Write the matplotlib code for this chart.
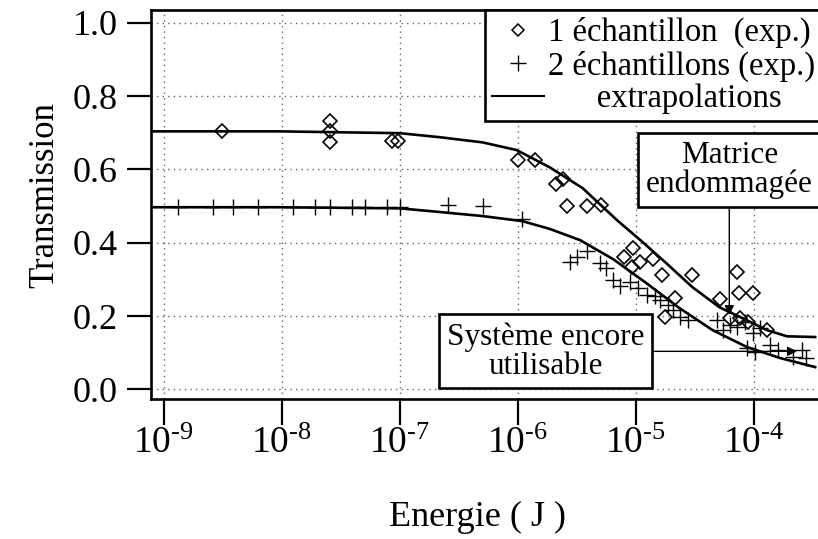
import numpy as np
import matplotlib
matplotlib.use("Agg")
import matplotlib.pyplot as plt
from matplotlib.lines import Line2D
from matplotlib.ticker import FixedLocator, FuncFormatter, NullLocator

plt.rcParams["font.family"] = ["Liberation Serif", "DejaVu Serif"]
plt.rcParams["mathtext.fontset"] = "custom"
plt.rcParams["mathtext.rm"] = "Liberation Serif"
plt.rcParams["mathtext.it"] = "Liberation Serif:italic"

# 1 echantillon (diamonds)
e1_x = [3.1e-9, 2.56e-8, 2.56e-8, 2.56e-8, 8.6e-8, 9.7e-8,
        1.0e-6, 1.4e-6, 2.11e-6, 2.42e-6, 2.61e-6, 3.85e-6, 5.07e-6,
        7.94e-6, 9.29e-6, 9.46e-6, 1.09e-5, 1.40e-5, 1.67e-5, 1.77e-5,
        2.15e-5, 2.99e-5, 5.16e-5, 6.28e-5, 7.19e-5, 7.48e-5, 7.64e-5,
        8.93e-5, 9.84e-5, 1.29e-4]
e1_y = [0.704, 0.732, 0.704, 0.674, 0.677, 0.677,
        0.625, 0.625, 0.560, 0.574, 0.500, 0.500, 0.503,
        0.361, 0.334, 0.385, 0.347, 0.355, 0.312, 0.197,
        0.249, 0.312, 0.246, 0.194, 0.320, 0.263, 0.194,
        0.184, 0.263, 0.162]

# 2 echantillons (crosses)
e2_x = [1.32e-9, 2.61e-9, 3.85e-9, 6.28e-9, 1.24e-8, 1.91e-8, 2.56e-8,
        3.94e-8, 5.07e-8, 7.80e-8, 1.0e-7, 2.56e-7, 5.07e-7, 1.09e-6,
        2.77e-6, 3.18e-6, 3.85e-6, 4.97e-6, 5.58e-6, 6.41e-6, 7.35e-6,
        8.93e-6, 1.04e-5, 1.24e-5, 1.46e-5, 1.60e-5, 1.87e-5, 2.07e-5,
        2.37e-5, 2.77e-5, 4.88e-5, 5.48e-5, 6.28e-5, 7.19e-5, 8.41e-5,
        9.84e-5, 1.13e-4, 8.75e-5, 1.02e-4, 1.37e-4, 1.60e-4, 2.15e-4,
        2.56e-4, 2.77e-4]
e2_y = [0.497, 0.497, 0.497, 0.497, 0.497, 0.497, 0.497,
        0.497, 0.497, 0.497, 0.497, 0.503, 0.500, 0.465,
        0.347, 0.361, 0.377, 0.344, 0.331, 0.298, 0.282,
        0.293, 0.276, 0.257, 0.254, 0.244, 0.230, 0.216,
        0.197, 0.189, 0.189, 0.162, 0.175, 0.170, 0.184,
        0.154, 0.167, 0.113, 0.102, 0.121, 0.107, 0.088,
        0.107, 0.085]

# extrapolations
c1_logx = [-9.11, -8.02, -7.00, -6.66, -6.30, -6.01, -5.73, -5.45, -5.16,
           -4.96, -4.74, -4.52, -4.29, -4.06, -3.89, -3.72, -3.48]
c1_y = [0.704, 0.704, 0.699, 0.688, 0.674, 0.653, 0.606, 0.549, 0.462,
        0.407, 0.344, 0.279, 0.224, 0.189, 0.162, 0.145, 0.143]
c2_logx = [-9.11, -8.02, -7.00, -6.66, -6.30, -5.96, -5.73, -5.47, -5.19,
           -4.91, -4.63, -4.35, -4.06, -3.78, -3.48]
c2_y = [0.497, 0.497, 0.494, 0.484, 0.473, 0.459, 0.438, 0.407, 0.355,
        0.290, 0.222, 0.162, 0.116, 0.086, 0.061]

xticks = [1e-9, 1e-8, 1e-7, 1e-6, 1e-5, 1e-4]
yticks = [0.0, 0.2, 0.4, 0.6, 0.8, 1.0]

fig = plt.figure(figsize=(8.18, 5.39), dpi=100)
ax = fig.add_axes([151 / 818, 140 / 539, 667 / 818, 389 / 539])

ax.plot(10 ** np.array(c1_logx), c1_y, color="black", lw=1.9, zorder=3)
ax.plot(10 ** np.array(c2_logx), c2_y, color="black", lw=1.9, zorder=3)
ax.plot(e1_x, e1_y, ls="none", marker="D", ms=7, mfc="none", mec="black",
        mew=1.2, zorder=4)
ax.plot(e2_x, e2_y, ls="none", marker="+", ms=12, mec="black", mew=1.0,
        zorder=4)

ax.set_xscale("log")
ax.set_xlim(10 ** -9.108, 10 ** -3.456)
ax.set_ylim(-0.026, 1.035)
ax.xaxis.set_major_locator(FixedLocator(xticks))
ax.xaxis.set_minor_locator(NullLocator())
ax.xaxis.set_major_formatter(FuncFormatter(
    lambda v, p: r"$\mathregular{10^{\text{%d}}}$" % round(np.log10(v))))
ax.set_yticks(yticks)
ax.set_yticklabels(["%.1f" % t for t in yticks])

ax.grid(True, ls=(0, (1, 3)), color="#666666", lw=1.0)
ax.tick_params(axis="y", direction="out", length=17, width=1.6,
               labelsize=26, pad=7)
ax.tick_params(axis="x", direction="out", length=19, width=1.6,
               labelsize=27, pad=1)
for s in ["left", "top", "bottom"]:
    ax.spines[s].set_linewidth(1.9)
ax.spines["right"].set_visible(False)

ax.set_ylabel("Transmission", fontsize=25)
ax.yaxis.set_label_coords(-0.135, 0.524)
ax.set_xlabel("Energie ( J )", fontsize=26)
ax.xaxis.set_label_coords(0.489, -0.262)

handles = [
    Line2D([], [], ls="none", marker="D", ms=6, mfc="none", mec="black", mew=1.1),
    Line2D([], [], ls="none", marker="+", ms=12, mec="black", mew=1.0),
    Line2D([], [], color="black", lw=1.5),
]
labels = ["1 échantillon  (exp.)", "2 échantillons (exp.)", "      extrapolations"]
leg = ax.legend(handles, labels, loc="upper left",
                bbox_to_anchor=(485 / 818, 1 - 10 / 539),
                bbox_transform=fig.transFigure, borderaxespad=0,
                fontsize=23.5, frameon=True, fancybox=False, framealpha=1,
                edgecolor="black", borderpad=0.22, labelspacing=0.06,
                handlelength=1.6, handletextpad=0.1)
leg.get_frame().set_linewidth(1.9)
leg.set_zorder(6)

box = dict(boxstyle="square,pad=0.25", fc="white", ec="black", lw=1.9)
arrow = dict(arrowstyle="-|>", color="black", lw=1.0, mutation_scale=14,
             shrinkA=0, shrinkB=0)
ax.annotate("Matrice\nendommagée", xy=(6.2e-5, 0.203), xytext=(6.2e-5, 0.598),
            fontsize=22.5, ha="center", va="center", multialignment="center",
            linespacing=1.0, bbox=box, arrowprops=arrow, zorder=7)
ax.annotate("Système encore\nutilisable", xy=(2.32e-4, 0.104),
            xytext=(1.73e-6, 0.104), fontsize=22.5, ha="center", va="center",
            multialignment="center", linespacing=1.0, bbox=box,
            arrowprops=arrow, zorder=7)

fig.savefig("out.png", dpi=100)
